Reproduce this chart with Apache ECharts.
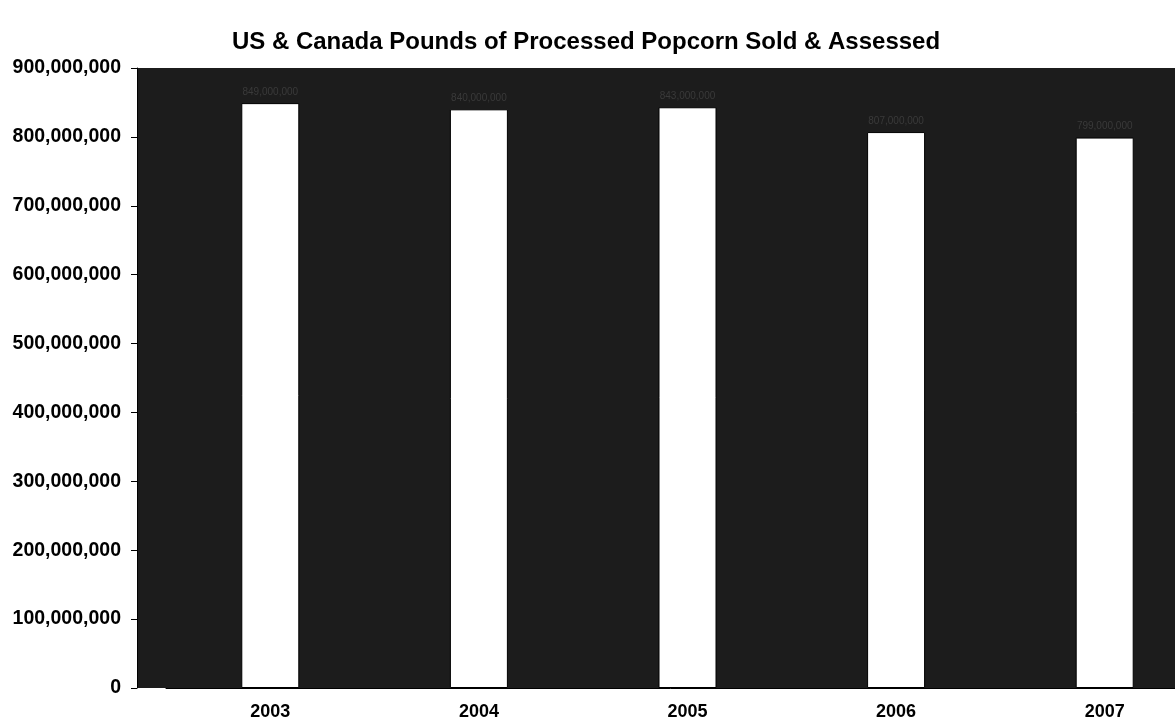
<!DOCTYPE html>
<html><head><meta charset="utf-8">
<script src="https://cdn.jsdelivr.net/npm/echarts@6/dist/echarts.min.js"></script>
<style>html,body{margin:0;padding:0;background:#fff}#c{width:1175px;height:723px}</style>
</head><body><div id="c"></div>
<script>
const categories = ['2003', '2004', '2005', '2006', '2007'];
const pounds = [849000000, 840000000, 843000000, 807000000, 799000000];
const yTicks = [0, 100000000, 200000000, 300000000, 400000000, 500000000, 600000000, 700000000, 800000000, 900000000];

const fmt = v => Math.round(v).toString().replace(/\B(?=(\d{3})+(?!\d))/g, ',');
const chart = echarts.init(document.getElementById('c'));
chart.setOption({
  animation: false,
  backgroundColor: '#fff',
  title: {
    text: 'US & Canada Pounds of Processed Popcorn Sold & Assessed',
    left: 581, top: 25, textAlign: 'center',
    textStyle: {fontFamily: 'Liberation Sans', fontWeight: 'bold', fontSize: 24, color: '#000'}
  },
  graphic: [{
    type: 'rect', z: -10, silent: true,
    shape: {x: 137, y: 68, width: 1038, height: 620},
    style: {fill: '#1c1c1c'}
  }],
  grid: {left: 166, width: 1043, top: 68, bottom: 35, show: false, containLabel: false, outerBoundsMode: 'none'},
  xAxis: {
    type: 'category', data: categories,
    axisLine: {show: true, lineStyle: {color: '#000', width: 1}},
    axisTick: {show: false},
    axisLabel: {margin: 15, fontFamily: 'Liberation Sans', fontWeight: 'bold', fontSize: 18, color: '#000'}
  },
  yAxis: {
    type: 'value', min: 0, max: 900000000, interval: 100000000, offset: 29,
    axisLine: {show: true, lineStyle: {color: '#000'}},
    axisTick: {show: true, inside: false, length: 6, lineStyle: {color: '#000'}},
    splitLine: {show: false},
    axisLabel: {margin: 16, fontFamily: 'Liberation Sans', fontWeight: 'bold', fontSize: 19.5, color: '#000',
      formatter: v => yTicks.includes(v) ? fmt(v) : ''}
  },
  series: [{
    type: 'bar', data: pounds, barWidth: 58,
    itemStyle: {color: '#fff', borderColor: '#000', borderWidth: 1},
    label: {show: true, position: 'top', distance: 6, formatter: p => fmt(p.value),
      fontFamily: 'Liberation Sans', fontSize: 10, color: '#3a3a3a'}
  }]
});
</script></body></html>
